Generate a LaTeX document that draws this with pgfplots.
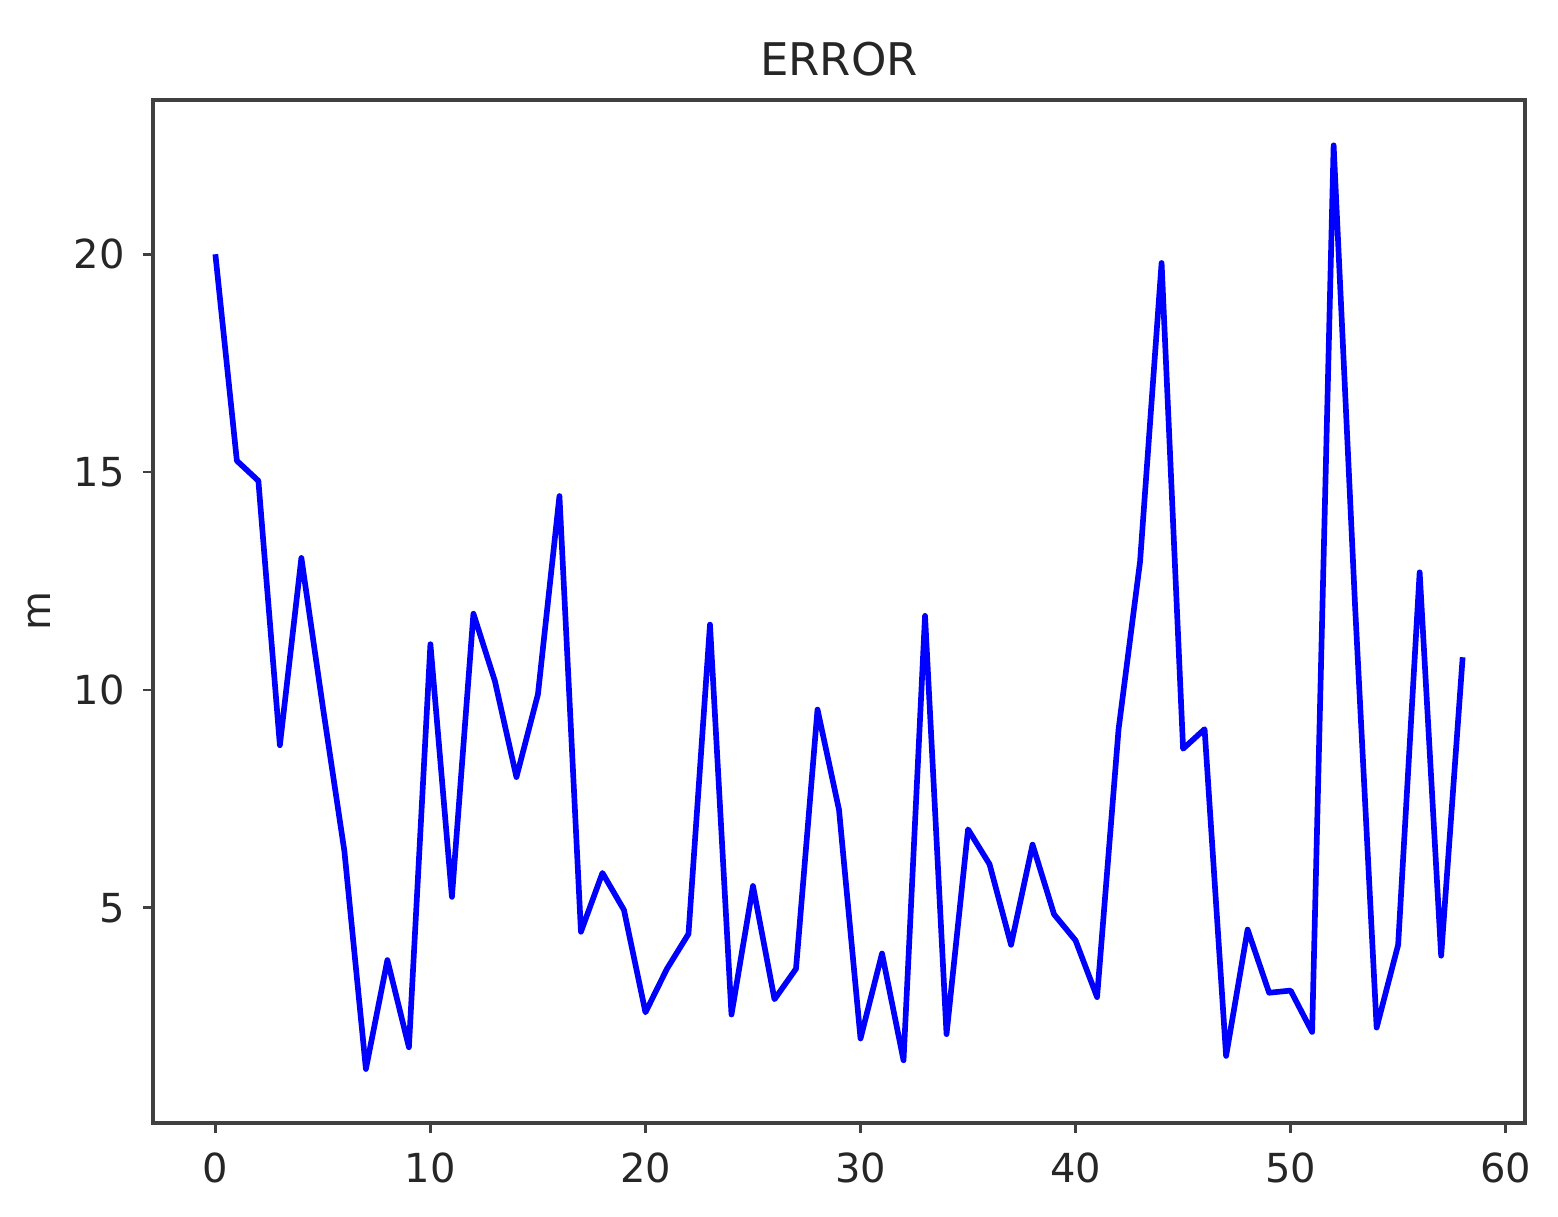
\documentclass[border=0pt]{standalone}
\usepackage{fontspec}
\setmainfont{DejaVu Sans}
\usepackage{pgfplots}
\pgfplotsset{compat=1.18}
\begin{document}
\begin{tikzpicture}
\useasboundingbox (-45.9pt,-27.9pt) rectangle (421.5pt,336.9pt);
\begin{axis}[
  at={(0,0)}, anchor=south west,
  scale only axis, width=411.6pt, height=306.9pt,
  xmin=-2.9, xmax=60.9, ymin=0.06, ymax=23.54,
  xtick={0,10,20,30,40,50,60}, ytick={5,10,15,20},
  xtick pos=left, ytick pos=left, tick align=outside,
  major tick length=3pt,
  axis line style={black!75, line width=1pt},
  every tick/.style={black!75, line width=0.8pt},
  tick label style={font=\fontsize{12}{14}\selectfont, text=black!85},
  /pgf/number format/assume math mode=true,
  xticklabel style={yshift=-2.5pt},
  yticklabel style={xshift=-2pt},
  title={ERROR},
  title style={font=\fontsize{13.5}{15}\selectfont, text=black!85, yshift=-2.5pt},
  ylabel={m},
  ylabel style={font=\fontsize{12}{14}\selectfont, text=black!85, yshift=0pt},
]
\addplot[blue, line width=1.7pt, mark=none, line join=round] coordinates {
(0,20.0) (1,15.26) (2,14.8) (3,8.73) (4,13.03) (5,9.6) (6,6.3) (7,1.3) (8,3.8) (9,1.8)
(10,11.05) (11,5.25) (12,11.75) (13,10.2) (14,8.0) (15,9.9) (16,14.45) (17,4.45) (18,5.8) (19,4.95)
(20,2.6) (21,3.6) (22,4.4) (23,11.5) (24,2.55) (25,5.5) (26,2.9) (27,3.6) (28,9.55) (29,7.25)
(30,2.0) (31,3.95) (32,1.5) (33,11.7) (34,2.1) (35,6.8) (36,6.0) (37,4.15) (38,6.45) (39,4.85)
(40,4.25) (41,2.95) (42,9.1) (43,12.95) (44,19.8) (45,8.65) (46,9.1) (47,1.6) (48,4.5) (49,3.05)
(50,3.1) (51,2.15) (52,22.5) (53,11.9) (54,2.25) (55,4.15) (56,12.7) (57,3.9) (58,10.75)
};
\end{axis}
\end{tikzpicture}
\end{document}
